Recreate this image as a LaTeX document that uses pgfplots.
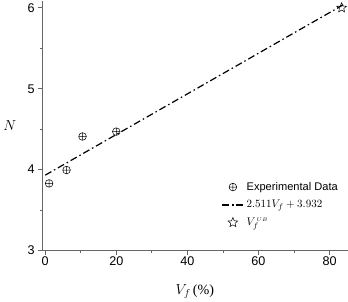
\documentclass[border=0pt]{standalone}
\usepackage{pgfplots}
\pgfplotsset{compat=1.18}
\usepackage{fontspec}
\setmainfont{Liberation Serif}
\setsansfont{Liberation Sans}
\pgfdeclareplotmark{ostar}{%
  \pgfpathmoveto{\pgfqpointpolar{90}{\pgfplotmarksize}}%
  \pgfpathlineto{\pgfqpointpolar{126}{0.45\pgfplotmarksize}}%
  \pgfpathlineto{\pgfqpointpolar{162}{\pgfplotmarksize}}%
  \pgfpathlineto{\pgfqpointpolar{198}{0.45\pgfplotmarksize}}%
  \pgfpathlineto{\pgfqpointpolar{234}{\pgfplotmarksize}}%
  \pgfpathlineto{\pgfqpointpolar{270}{0.45\pgfplotmarksize}}%
  \pgfpathlineto{\pgfqpointpolar{306}{\pgfplotmarksize}}%
  \pgfpathlineto{\pgfqpointpolar{342}{0.45\pgfplotmarksize}}%
  \pgfpathlineto{\pgfqpointpolar{18}{\pgfplotmarksize}}%
  \pgfpathlineto{\pgfqpointpolar{54}{0.45\pgfplotmarksize}}%
  \pgfpathclose
  \pgfusepathqstroke
}
\begin{document}
\begin{tikzpicture}
\begin{axis}[
  scale only axis,
  width=303pt, height=248pt,
  xmin=-0.85, xmax=85.1, ymin=3, ymax=6.09,
  axis lines*=left,
  axis line style={gray!80!black, line width=0.7pt},
  xtick={0,20,40,60,80}, ytick={3,4,5,6},
  minor xtick={10,30,50,70},
  minor ytick={3.5,4.5,5.5},
  tick align=outside,
  major tick length=4pt, minor tick length=2.5pt,
  tick style={gray!80!black, line width=0.7pt},
  ticklabel style={font=\sffamily\fontsize{12.5}{14}\selectfont},
  xticklabel style={yshift=1pt},
  /pgf/number format/assume math mode=true,
  xlabel={\fontsize{14}{16}\selectfont$V_f\,$(\%)},
  ylabel={\fontsize{15}{16}\selectfont$N$},
  ylabel style={rotate=-90, anchor=center, at={(axis description cs:-0.106,0.5)}},
  xlabel style={anchor=center, at={(axis description cs:0.5,-0.163)}},
  legend style={draw=none, fill=none, at={(0.985,0.29)}, anchor=north east, font=\sffamily\fontsize{11}{13}\selectfont, row sep=4.5pt},
  legend image code/.code={\draw[mark repeat=2,mark phase=2,#1] plot coordinates {(0pt,0pt) (11pt,0pt) (22pt,0pt)};},
  legend cell align=left,
  clip=false,
]
\addplot[only marks, mark=oplus, mark size=3.8pt, mark options={black, line width=0.5pt}] coordinates {
  (1.1,3.83) (6.0,3.995) (10.5,4.41) (20.0,4.47)
};
\addlegendentry{Experimental Data}
\addplot[black, line width=1.2pt, dash pattern=on 7pt off 3pt on 1.5pt off 3pt] coordinates {
  (0,3.932) (84,6.041)
};
\addlegendentry{\rmfamily$2.511V_f+3.932$}
\addplot[only marks, mark=ostar, mark size=5pt, mark options={black, line width=0.5pt}] coordinates {
  (83.4,6.0)
};
\addlegendentry{\rmfamily$V_f^{\scriptscriptstyle\,UB}$}
\end{axis}
\end{tikzpicture}
\end{document}
